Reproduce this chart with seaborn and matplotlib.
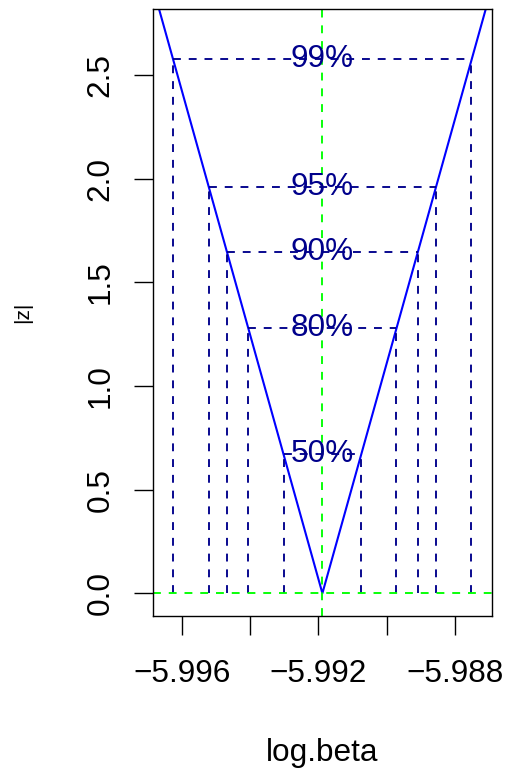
import matplotlib
matplotlib.use("Agg")
import matplotlib.pyplot as plt
import seaborn as sns
import pandas as pd

# ---- data ----
log_beta = [-5.99686, -5.99188, -5.98690]   # profile trace (V shape)
abs_z = [2.93, 0.0, 2.93]
center = -5.99188                           # estimate (green vertical)
levels = ["50%", "80%", "90%", "95%", "99%"]
level_z = [0.674, 1.282, 1.645, 1.960, 2.576]
lower = [-5.99302, -5.99405, -5.99467, -5.99520, -5.99625]
upper = [-5.99074, -5.98971, -5.98909, -5.98856, -5.98751]
xticks = [-5.996, -5.994, -5.992, -5.990, -5.988]
xtick_labels = ["\u22125.996", "", "\u22125.992", "", "\u22125.988"]
yticks = [0.0, 0.5, 1.0, 1.5, 2.0, 2.5]
ytick_labels = ["0.0", "0.5", "1.0", "1.5", "2.0", "2.5"]

sns.set_theme(style="ticks")
plt.rcParams["font.family"] = ["Liberation Sans", "DejaVu Sans"]

FS = 22.7
fig = plt.figure(figsize=(5.07, 7.74), dpi=100)
ax = fig.add_axes([153.3 / 507, 1 - 616 / 774, (491.7 - 153.3) / 507, 607 / 774])

df = pd.DataFrame({"log.beta": log_beta, "z": abs_z})
sns.lineplot(data=df, x="log.beta", y="z", ax=ax, color="#0000FF", lw=1.5,
             estimator=None, sort=False)

dash = (0, (4.2, 4.2))
LW = 1.35
ax.hlines(level_z, lower, upper, colors="#00008B", linestyles=[dash], lw=LW)
ax.vlines(lower, 0, level_z, colors="#00008B", linestyles=[dash], lw=LW)
ax.vlines(upper, 0, level_z, colors="#00008B", linestyles=[dash], lw=LW)
for lab, zv in zip(levels, level_z):
    ax.text(center, zv, lab, ha="center", va="center", fontsize=FS, color="#00008B")

ax.axvline(center, color="#00FF00", ls=dash, lw=LW)
ax.axhline(0.0, color="#00FF00", ls=dash, lw=LW)

ax.set_xlim(-5.996839, -5.986915)
ax.set_ylim(-0.1095, 2.819)

ax.set_xticks(xticks)
ax.set_xticklabels(xtick_labels)
ax.set_yticks(yticks)
ax.set_yticklabels(ytick_labels, rotation=90, va="center")
ax.tick_params(axis="both", length=14, width=1.0, color="black", labelsize=FS,
               direction="out", labelcolor="black")
ax.tick_params(axis="x", pad=17)
ax.tick_params(axis="y", pad=13)
for s in ax.spines.values():
    s.set_visible(True)
    s.set_color("black")
    s.set_linewidth(1.0)

ax.set_xlabel("log.beta", fontsize=FS, color="black")
ax.set_ylabel("|z|", fontsize=15, color="black")
ax.xaxis.set_label_coords(0.5, (616 - 738) / 607 + 0.0, transform=ax.transAxes)
ax.yaxis.set_label_coords((22.5 - 153.3) / 338.4, 0.5)
ax.xaxis.label.set_va("top")
ax.yaxis.label.set_va("center")
ax.yaxis.label.set_y(1 - (312 - 9) / 607)

ax.grid(False)
fig.savefig("out.png", dpi=100)
